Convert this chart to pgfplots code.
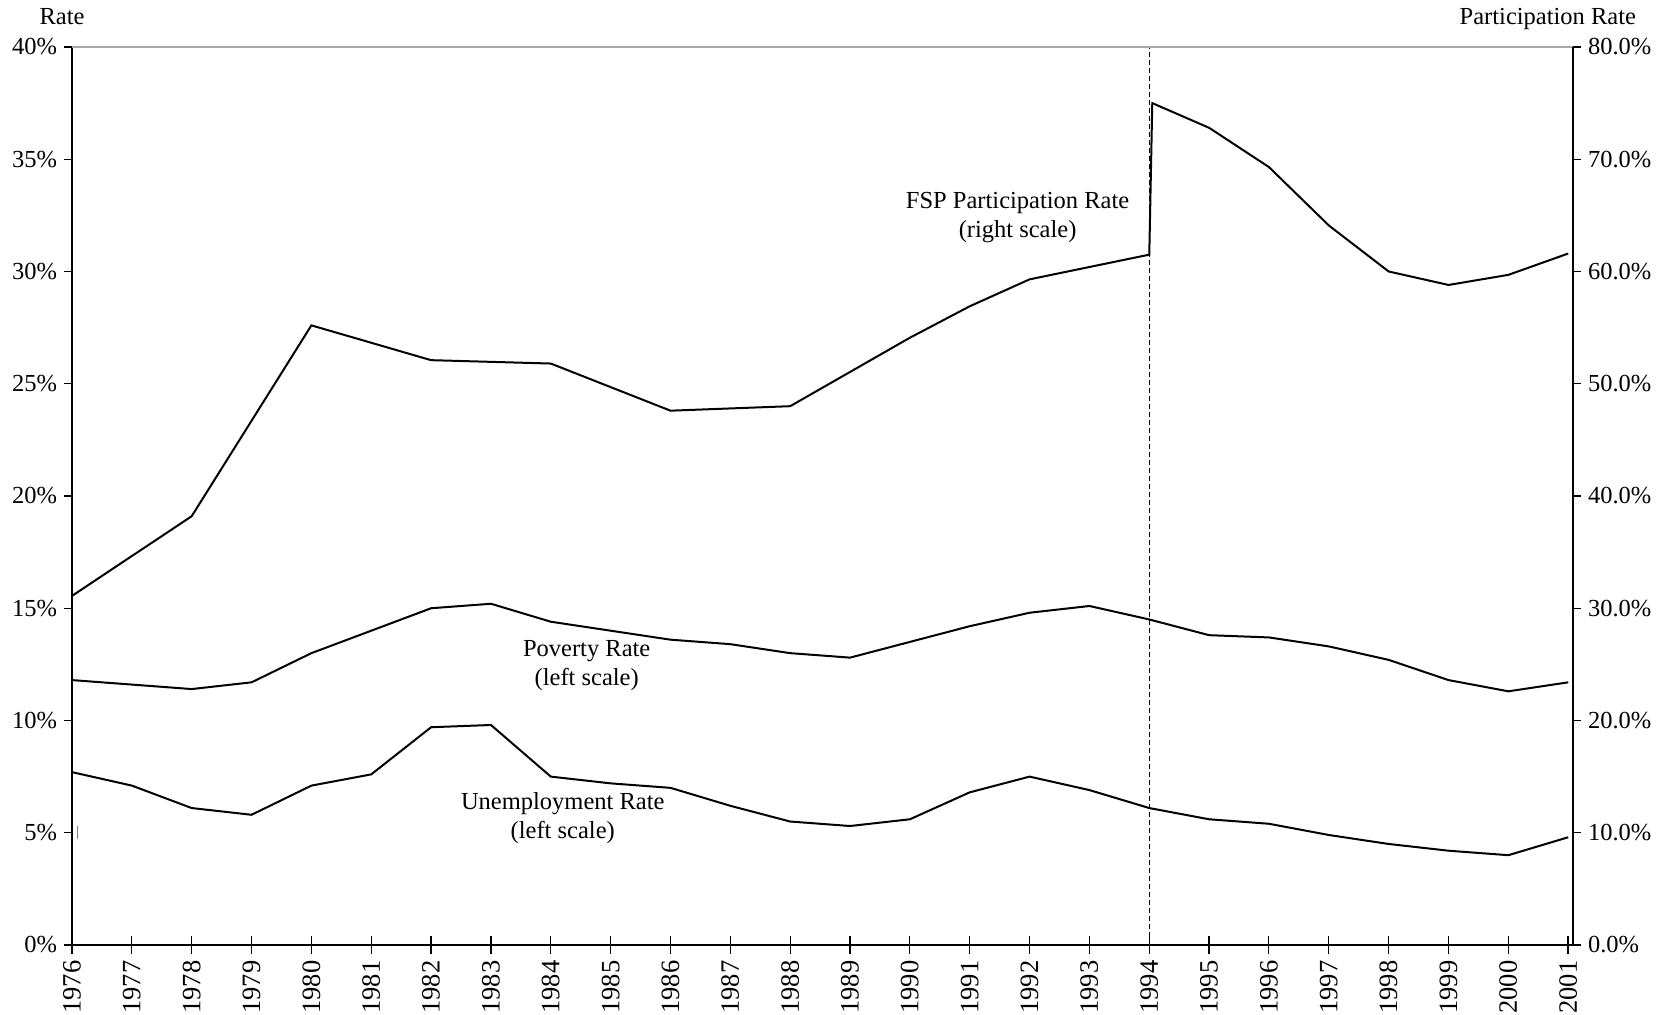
\documentclass[border=0pt]{standalone}
\usepackage{pgfplots}
\pgfplotsset{compat=1.18}
\usepackage{fontspec}
\setmainfont{Liberation Serif}
\begin{document}
\begin{tikzpicture}
\pgfplotsset{
  every axis/.append style={
    scale only axis, width=750.5bp, height=449bp,
    xmin=1976, xmax=2001.08, ymin=0,
    font=\fontsize{12.3}{14.5}\selectfont,
    /pgf/number format/assume math mode=true,
    tick style={black, line width=0.6bp},
    axis line style={line width=0.8bp},
  }
}
% x axis only
\begin{axis}[
  axis x line*=bottom, hide y axis,
  ymax=40,
  xtick={1976,1977,...,2001},
  xticklabel style={rotate=90, anchor=east, font=\fontsize{13.3}{15}\selectfont, /pgf/number format/1000 sep={}},
  major tick length=8.5bp,
  xtick align=center,
]
\end{axis}
\begin{axis}[
  axis y line*=left, hide x axis,
  ymax=40,
  ytick={0,5,...,40},
  yticklabel={\pgfmathprintnumber{\tick}\%},
  ytick align=outside, major tick length=4bp,
  clip=false,
]
\addplot[black, line width=1bp] coordinates {
(1976,11.8)(1977,11.6)(1978,11.4)(1979,11.7)(1980,13.0)(1981,14.0)(1982,15.0)(1983,15.2)
(1984,14.4)(1985,14.0)(1986,13.6)(1987,13.4)(1988,13.0)(1989,12.8)(1990,13.5)(1991,14.2)
(1992,14.8)(1993,15.1)(1994,14.5)(1995,13.8)(1996,13.7)(1997,13.3)(1998,12.7)(1999,11.8)
(2000,11.3)(2001,11.7)};
\addplot[black, line width=1bp] coordinates {
(1976,7.7)(1977,7.1)(1978,6.1)(1979,5.8)(1980,7.1)(1981,7.6)(1982,9.7)(1983,9.8)
(1984,7.5)(1985,7.2)(1986,7.0)(1987,6.2)(1988,5.5)(1989,5.3)(1990,5.6)(1991,6.8)
(1992,7.5)(1993,6.9)(1994,6.1)(1995,5.6)(1996,5.4)(1997,4.9)(1998,4.5)(1999,4.2)
(2000,4.0)(2001,4.8)};
\addplot[black, line width=0.5bp, dash pattern=on 2.5bp off 1.5bp] coordinates {(1994,0)(1994,40)};
\draw[gray!70, line width=0.8bp] (axis cs:1976,40) -- (axis cs:2001.08,40);
\draw[gray, line width=0.5bp] (axis cs:1976.09,4.7) -- (axis cs:1976.09,5.3);
\node[align=center] at (axis cs:1991.8,32.4) {FSP Participation Rate\\(right scale)};
\node[align=center] at (axis cs:1984.6,12.45) {Poverty Rate\\(left scale)};
\node[align=center] at (axis cs:1984.2,5.65) {Unemployment Rate\\(left scale)};
\node[anchor=base] at ([shift={(-5bp,11bp)}]rel axis cs:0,1) {Rate};
\node[anchor=base east] at ([shift={(35bp,11bp)}]rel axis cs:1,1) {Participation Rate};
\end{axis}
\begin{axis}[
  axis y line*=right, hide x axis,
  ymax=80,
  ytick={0,10,...,80},
  yticklabel={\pgfmathprintnumber[fixed,fixed zerofill,precision=1]{\tick}\%},
  ytick align=outside, major tick length=4bp,
]
\addplot[black, line width=1bp] coordinates {
(1976,31.1)(1978,38.2)(1980,55.2)(1982,52.1)(1984,51.8)(1986,47.6)(1988,48.0)
(1990,54.1)(1991,56.9)(1992,59.3)(1994,61.5)(1994.05,75.0)(1995,72.8)(1996,69.3)
(1997,64.1)(1998,60.0)(1999,58.8)(2000,59.7)(2001,61.6)};
\end{axis}
\pgfresetboundingbox
\path ([shift={(-36bp,-35bp)}]current axis.south west) rectangle ([shift={(52.5bp,23.5bp)}]current axis.north east);
\end{tikzpicture}
\end{document}
